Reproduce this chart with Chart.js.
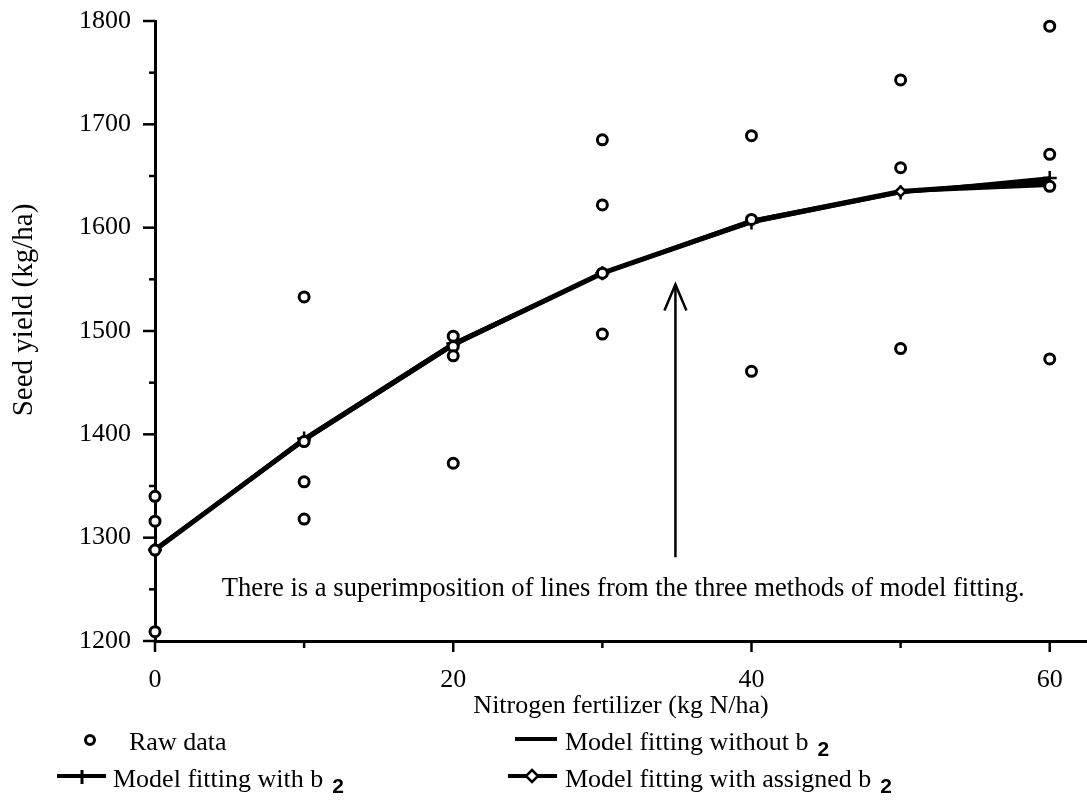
<!DOCTYPE html>
<html>
<head>
<meta charset="utf-8">
<script src="https://cdn.jsdelivr.net/npm/chart.js@4.4.1/dist/chart.umd.min.js"></script>
<style>
html,body{margin:0;padding:0;background:#fff;}
#wrap{width:1087px;height:812px;position:relative;}
</style>
</head>
<body>
<div id="wrap"><canvas id="c" width="1087" height="812"></canvas></div>
<script>
// ---- data ----
const nitrogenLevels = [0, 10, 20, 30, 40, 50, 60];
const rawN     = [0, 0, 0, 0, 10, 10, 10, 10, 20, 20, 20, 20, 30, 30, 30, 30, 40, 40, 40, 50, 50, 50, 60, 60, 60, 60];
const rawYield = [1340, 1316, 1288, 1209, 1533, 1393, 1354, 1318, 1495, 1485, 1476, 1372, 1685, 1622, 1556, 1497, 1689, 1608, 1461, 1743, 1658, 1483, 1795, 1671, 1640, 1473];
const fitWithoutB2  = [1288, 1395, 1487, 1556, 1606, 1635, 1645];
const fitWithB2     = [1288, 1396, 1488, 1556, 1605, 1634, 1648];
const fitAssignedB2 = [1289, 1394, 1486, 1556, 1607, 1635, 1641];
const xTickValues = [0, 10, 20, 30, 40, 50, 60];
const xTickLabels = [0, 20, 40, 60];
const yTickValues = [1200, 1250, 1300, 1350, 1400, 1450, 1500, 1550, 1600, 1650, 1700, 1750, 1800];
const yTickLabels = [1200, 1300, 1400, 1500, 1600, 1700, 1800];
const xTitle = 'Nitrogen fertilizer (kg N/ha)';
const yTitle = 'Seed yield (kg/ha)';
const noteText = 'There is a superimposition of lines from the three methods of model fitting.';
const noteAt = {n: 31.4, yield: 1244};
const arrowAt = {n: 34.9, fromYield: 1281, toYield: 1545};
const legendNames = ['Raw data', 'Model fitting without b', 'Model fitting with b', 'Model fitting with assigned b'];
const legendSub = '2';

const SERIF = '"Liberation Serif", "Times New Roman", serif';
const SANS = '"Liberation Sans", Arial, sans-serif';

const toXY = (xs, ys) => xs.map((x, i) => ({x: x, y: ys[i]}));

const overlay = {
  id: 'overlay',
  afterDraw(chart) {
    const ctx = chart.ctx;
    const xs = chart.scales.x, ys = chart.scales.y;
    const area = chart.chartArea;
    ctx.save();
    ctx.strokeStyle = '#000';
    ctx.fillStyle = '#000';
    ctx.lineCap = 'butt';
    // y ticks
    ctx.lineWidth = 2.5;
    yTickValues.forEach(v => {
      const py = ys.getPixelForValue(v);
      const len = yTickLabels.includes(v) ? 12 : 6;
      ctx.beginPath(); ctx.moveTo(area.left - len, py); ctx.lineTo(area.left, py); ctx.stroke();
    });
    // x ticks
    xTickValues.forEach(v => {
      const px = xs.getPixelForValue(v);
      const len = xTickLabels.includes(v) ? 11 : 7;
      ctx.beginPath(); ctx.moveTo(px, area.bottom); ctx.lineTo(px, area.bottom + len); ctx.stroke();
    });
    // annotation text
    ctx.font = '26.6px ' + SERIF;
    ctx.textAlign = 'center';
    ctx.textBaseline = 'alphabetic';
    ctx.fillText(noteText, xs.getPixelForValue(noteAt.n), ys.getPixelForValue(noteAt.yield));
    // arrow
    const ax = xs.getPixelForValue(arrowAt.n);
    const ay0 = ys.getPixelForValue(arrowAt.fromYield);
    const ay1 = ys.getPixelForValue(arrowAt.toYield);
    ctx.lineWidth = 2.5;
    ctx.beginPath(); ctx.moveTo(ax, ay0); ctx.lineTo(ax, ay1); ctx.stroke();
    ctx.beginPath(); ctx.moveTo(ax - 11, ay1 + 26); ctx.lineTo(ax, ay1); ctx.lineTo(ax + 11, ay1 + 26); ctx.stroke();
    // y title
    ctx.save();
    ctx.translate(24, 310);
    ctx.rotate(-Math.PI / 2);
    ctx.font = '29px ' + SERIF;
    ctx.textAlign = 'center';
    ctx.textBaseline = 'middle';
    ctx.fillText(yTitle, 0, 0);
    ctx.restore();
    // legend
    const r1 = 743, r2 = 780;
    const drawLabel = (text, x, y, sub) => {
      ctx.font = '26px ' + SERIF;
      ctx.textAlign = 'left';
      ctx.textBaseline = 'middle';
      ctx.fillText(text, x, y);
      if (sub) {
        const w = ctx.measureText(text).width;
        ctx.font = 'bold 21px ' + SANS;
        ctx.fillText(legendSub, x + w + 9, y + 7);
      }
    };
    // raw data
    ctx.lineWidth = 3;
    ctx.beginPath(); ctx.arc(90, r1 - 3, 4.5, 0, Math.PI * 2); ctx.fillStyle = '#fff'; ctx.fill(); ctx.stroke();
    ctx.fillStyle = '#000';
    drawLabel(legendNames[0], 129, r1, false);
    // without b2
    ctx.lineWidth = 4;
    ctx.beginPath(); ctx.moveTo(515, r1 - 4); ctx.lineTo(557, r1 - 4); ctx.stroke();
    drawLabel(legendNames[1], 565, r1, true);
    // with b2
    ctx.beginPath(); ctx.moveTo(57, r2 - 4); ctx.lineTo(106, r2 - 4); ctx.stroke();
    ctx.lineWidth = 3;
    ctx.beginPath(); ctx.moveTo(82, r2 - 10); ctx.lineTo(82, r2 + 4); ctx.stroke();
    drawLabel(legendNames[2], 113, r2, true);
    // assigned b2
    ctx.lineWidth = 4;
    ctx.beginPath(); ctx.moveTo(508, r2 - 4); ctx.lineTo(557, r2 - 4); ctx.stroke();
    ctx.lineWidth = 2.5;
    ctx.beginPath();
    ctx.moveTo(532, r2 - 10); ctx.lineTo(538, r2 - 4); ctx.lineTo(532, r2 + 2); ctx.lineTo(526, r2 - 4); ctx.closePath();
    ctx.fillStyle = '#fff'; ctx.fill(); ctx.stroke();
    ctx.fillStyle = '#000';
    drawLabel(legendNames[3], 565, r2, true);
    ctx.restore();
  }
};

new Chart(document.getElementById('c'), {
  type: 'scatter',
  data: {
    datasets: [
      {
        label: legendNames[0],
        data: toXY(rawN, rawYield),
        showLine: false,
        pointStyle: 'circle',
        pointRadius: 5,
        pointBorderWidth: 3,
        pointBorderColor: '#000',
        pointBackgroundColor: '#fff',
        clip: false,
        order: 0
      },
      {
        label: legendNames[1],
        data: toXY(nitrogenLevels, fitWithoutB2),
        showLine: true,
        borderColor: '#000',
        borderWidth: 5,
        pointRadius: 0,
        tension: 0,
        clip: false,
        order: 3
      },
      {
        label: legendNames[2],
        data: toXY(nitrogenLevels, fitWithB2),
        showLine: true,
        borderColor: '#000',
        borderWidth: 3.5,
        pointStyle: 'cross',
        pointRadius: 7,
        pointBorderWidth: 2.5,
        pointBorderColor: '#000',
        tension: 0,
        clip: false,
        order: 2
      },
      {
        label: legendNames[3],
        data: toXY(nitrogenLevels, fitAssignedB2),
        showLine: true,
        borderColor: '#000',
        borderWidth: 3.5,
        pointStyle: 'rectRot',
        pointRadius: 5,
        pointBorderWidth: 2.5,
        pointBorderColor: '#000',
        pointBackgroundColor: '#fff',
        tension: 0,
        clip: false,
        order: 1
      }
    ]
  },
  options: {
    responsive: false,
    animation: false,
    devicePixelRatio: 1,
    layout: {autoPadding: false, padding: {top: 21, right: 0, bottom: 88, left: 0}},
    plugins: {legend: {display: false}, tooltip: {enabled: false}},
    scales: {
      x: {
        type: 'linear',
        min: 0,
        max: 62.5,
        afterBuildTicks: s => { s.ticks = xTickValues.map(v => ({value: v})); },
        afterFit: s => { s.height = 83; s.paddingLeft = 0; s.paddingRight = 0; },
        ticks: {
          callback: v => xTickLabels.includes(v) ? String(v) : '',
          padding: 24,
          autoSkip: false,
          maxRotation: 0,
          color: '#000',
          font: {family: SERIF, size: 26}
        },
        grid: {display: false, drawTicks: false},
        border: {display: true, color: '#000', width: 3},
        title: {
          display: true,
          text: xTitle,
          color: '#000',
          font: {family: SERIF, size: 26},
          padding: {top: 0, bottom: 2}
        }
      },
      y: {
        type: 'linear',
        min: 1200,
        max: 1800,
        afterBuildTicks: s => { s.ticks = yTickValues.map(v => ({value: v})); },
        afterFit: s => { s.width = 155; s.paddingTop = 0; s.paddingBottom = 0; },
        ticks: {
          callback: v => yTickLabels.includes(v) ? String(v) : '',
          padding: 24,
          autoSkip: false,
          color: '#000',
          font: {family: SERIF, size: 26}
        },
        grid: {display: false, drawTicks: false},
        border: {display: true, color: '#000', width: 3}
      }
    }
  },
  plugins: [overlay]
});
</script>
</body>
</html>
